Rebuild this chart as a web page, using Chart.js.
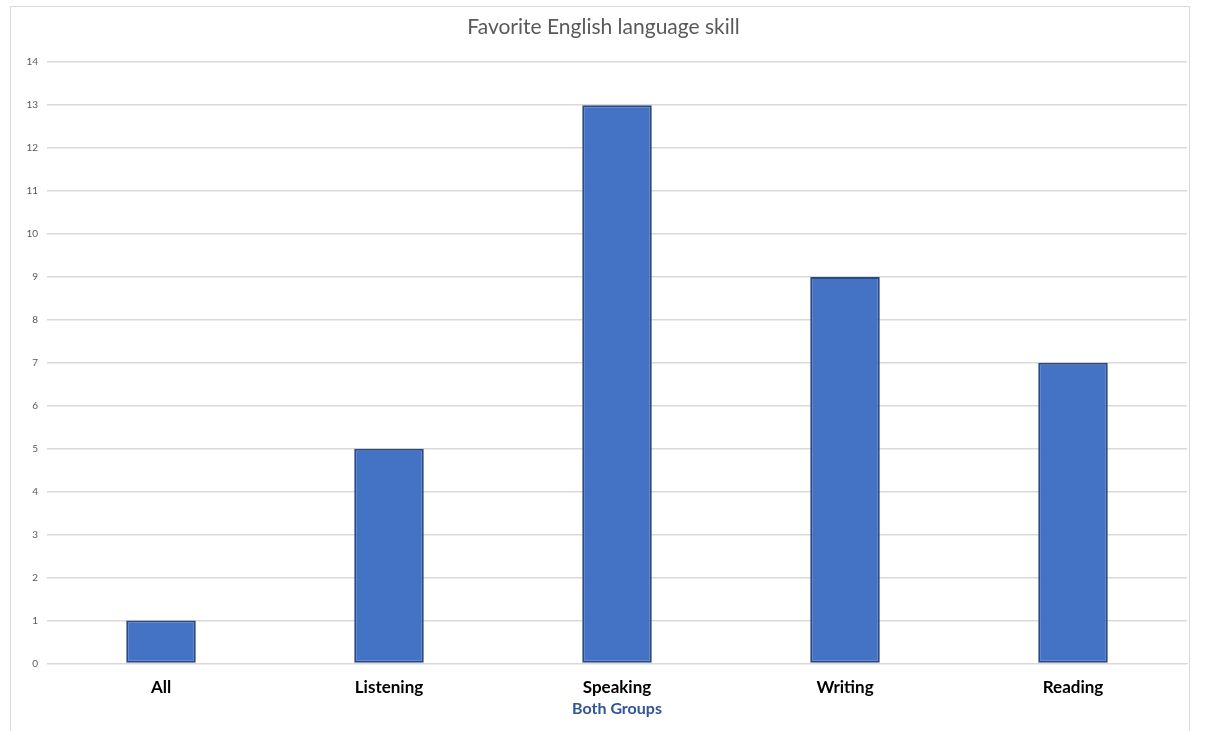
<!DOCTYPE html>
<html>
<head>
<meta charset="utf-8">
<script src="https://cdn.jsdelivr.net/npm/chart.js@4"></script>
<style>
    html, body { margin: 0; padding: 0; background: #ffffff; }
    #frame { position: absolute; left: 10px; top: 6px; width: 1180px; height: 730px; border: 1px solid #d9d9d9; border-bottom: none; box-sizing: border-box; }
    #wrap { position: absolute; left: 0; top: 0; width: 1206px; height: 731px; }
</style>
</head>
<body>
<div id="frame"></div>
<div id="wrap"><canvas id="skillChart" width="1206" height="731"></canvas></div>
<script>
const categories = ["All", "Listening", "Speaking", "Writing", "Reading"];
const counts = [1, 5, 13, 9, 7];
const yMax = 14;
const chartTitle = "Favorite English language skill";
const axisTitle = "Both Groups";

function initChart() {
    const ctx = document.getElementById("skillChart")?.getContext("2d");
    if (!ctx) return;

    new Chart(ctx, {
        type: "bar",
        data: {
            labels: categories,
            datasets: [{
                label: "Both Groups",
                data: counts,
                backgroundColor: "#4472c4",
                borderColor: "#2a4a82",
                borderWidth: 2,
                borderSkipped: false,
                categoryPercentage: 1,
                barPercentage: 0.305
            }]
        },
        options: {
            responsive: false,
            animation: false,
            layout: { padding: { left: 20, right: 19, top: 0, bottom: 13 } },
            plugins: {
                legend: { display: false },
                tooltip: { enabled: false },
                title: {
                    display: true,
                    text: chartTitle,
                    color: "#595959",
                    font: { family: "Lato", size: 21, weight: "normal" },
                    padding: { top: 15, bottom: 22 }
                }
            },
            scales: {
                x: {
                    grid: { display: false },
                    border: { color: "#d9d9d9", width: 1 },
                    ticks: { color: "#000000", font: { family: "Lato", size: 17, weight: "bold" }, padding: 6 },
                    title: {
                        display: true,
                        text: axisTitle,
                        color: "#2f5597",
                        font: { family: "Lato", size: 16, weight: "bold" },
                        padding: { top: -5, bottom: 0 }
                    }
                },
                y: {
                    min: 0,
                    max: yMax,
                    afterFit: (scale) => { scale.width = 27; },
                    grid: { color: "#d9d9d9", lineWidth: 1.5, drawTicks: false },
                    border: { display: false },
                    ticks: { stepSize: 1, color: "#595959", font: { family: "Lato", size: 10 }, padding: 9 }
                }
            }
        }
    });
}

document.addEventListener("DOMContentLoaded", initChart);
</script>
</body>
</html>
